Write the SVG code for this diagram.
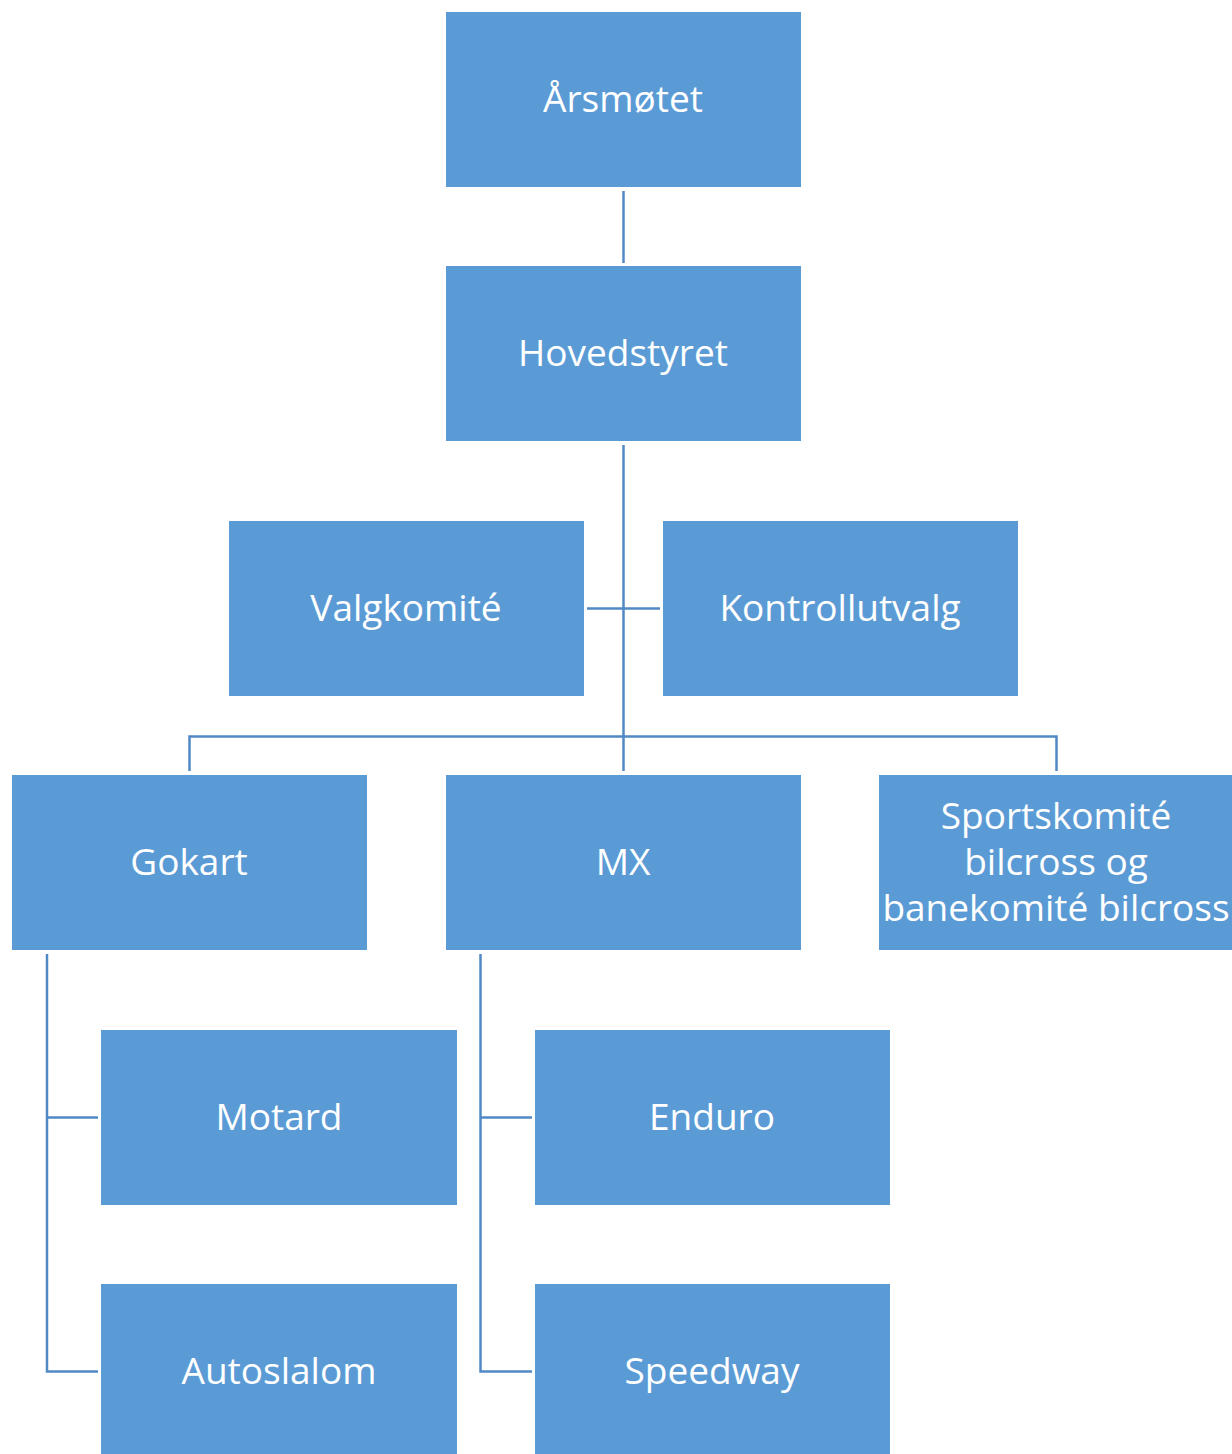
<svg xmlns="http://www.w3.org/2000/svg" width="1232" height="1454" viewBox="0 0 1232 1454">
<style>
.box{fill:#5B9BD5;}
.lbl{fill:#FFFFFF;font-family:"Open Sans","Liberation Sans",sans-serif;font-size:37px;text-anchor:middle;}
.con{stroke:#5089C6;stroke-width:2.5;fill:none;}
</style>
<rect width="1232" height="1454" fill="#FFFFFF"/>
<g id="connectors">
<path class="con" d="M623.5,191 V263"/>
<path class="con" d="M623.5,445 V771"/>
<path class="con" d="M587,608.5 H660"/>
<path class="con" d="M189.5,771 V736.5 H1056.5 V771"/>
<path class="con" d="M47,954 V1371.5 H98 M47,1117.5 H98"/>
<path class="con" d="M480.5,954 V1371.5 H532 M480.5,1117.5 H532"/>
</g>
<g id="arsmotet"><rect class="box" x="446" y="12" width="355" height="175"/><text class="lbl" x="623" y="112">Årsmøtet</text></g>
<g id="hovedstyret"><rect class="box" x="446" y="266" width="355" height="175"/><text class="lbl" x="623" y="366">Hovedstyret</text></g>
<g id="valgkomite"><rect class="box" x="229" y="521" width="355" height="175"/><text class="lbl" x="406" y="621">Valgkomité</text></g>
<g id="kontrollutvalg"><rect class="box" x="663" y="521" width="355" height="175"/><text class="lbl" x="840" y="621">Kontrollutvalg</text></g>
<g id="gokart"><rect class="box" x="12" y="775" width="355" height="175"/><text class="lbl" x="189" y="875">Gokart</text></g>
<g id="mx"><rect class="box" x="446" y="775" width="355" height="175"/><text class="lbl" x="623" y="875">MX</text></g>
<g id="sportskomite"><rect class="box" x="879" y="775" width="356" height="175"/><text class="lbl" x="1056" y="829">Sportskomité</text><text class="lbl" x="1056" y="875">bilcross og</text><text class="lbl" x="1056" y="921">banekomité bilcross</text></g>
<g id="motard"><rect class="box" x="101" y="1030" width="356" height="175"/><text class="lbl" x="279" y="1130">Motard</text></g>
<g id="enduro"><rect class="box" x="535" y="1030" width="355" height="175"/><text class="lbl" x="712" y="1130">Enduro</text></g>
<g id="autoslalom"><rect class="box" x="101" y="1284" width="356" height="175"/><text class="lbl" x="279" y="1384">Autoslalom</text></g>
<g id="speedway"><rect class="box" x="535" y="1284" width="355" height="175"/><text class="lbl" x="712" y="1384">Speedway</text></g>
</svg>
